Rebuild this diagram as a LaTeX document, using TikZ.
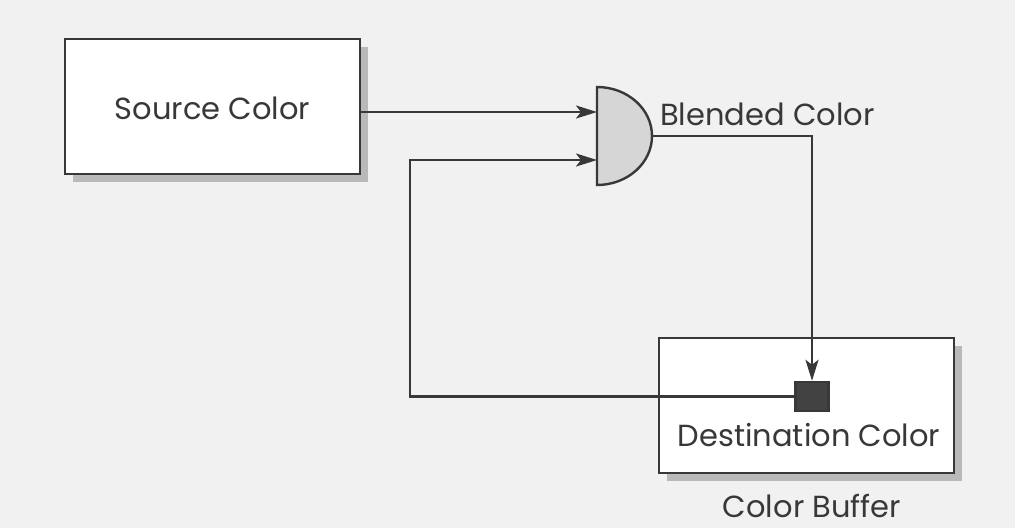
\documentclass[tikz,border=0pt]{standalone}
\usepackage{fontspec}
\setmainfont{Poppins}
\usetikzlibrary{arrows.meta, shadows}
\definecolor{ink}{HTML}{383838}
\definecolor{paper}{HTML}{F1F1F1}
\begin{document}
\begin{tikzpicture} [x = 1pt, y = -1pt, line width = 2.4pt, draw = ink,
  box/.style = {draw = ink, line width = 2.4pt, fill = white, minimum width = 295pt, minimum height = 135pt, inner sep = 0pt,
                drop shadow = {shadow xshift = 8pt, shadow yshift = -8pt, fill = gray!55, opacity = 1}},
  lbl/.style = {text = ink, font = \fontsize{30.5}{36}\selectfont, inner sep = 0pt},
  arr/.style = {-{Stealth[length = 21pt, width = 13pt, inset = 5pt]}}]
\fill [paper] (0,0) rectangle (1015,528);
\useasboundingbox (0,0) rectangle (1015,528);
\node[box](src) at (212.5,106.5){};
\node[lbl, anchor = base](srclbl) at (212.5,119){Source Color};
\node[box](dst) at (806.5,405.5){};
\node[lbl, anchor = base](dstlbl) at (809,446){Destination Color};
\node[lbl, anchor = base](buflbl) at (812,517){Color Buffer};
\node[draw = ink, fill = ink!95, minimum width = 33pt, minimum height = 29pt, inner sep = 0pt](dstpix) at (812,396.5){};
% blending gate
\coordinate (blendin1) at (597,112);
\coordinate (blendin2) at (597,160);
\coordinate (blendout) at (652,136);
\draw [fill = gray!32] (597,185) -- (597,87) arc [start angle = -90, end angle = 90, x radius = 55, y radius = 49] -- cycle;
\node[lbl, anchor = base west](blendlbl) at (659,125){Blended Color};
\coordinate (loopa) at (410,160);
\coordinate (loopb) at (410,396.5);
\coordinate (outa) at (812,136);
\draw [arr] (src.east |- blendin1) -- (blendin1);
\draw [arr] (dstpix.west) -- (loopb) -- (loopa) -- (blendin2);
\draw [arr] (blendout) -- (outa) -- (dstpix.north);
\end{tikzpicture}
\end{document}
